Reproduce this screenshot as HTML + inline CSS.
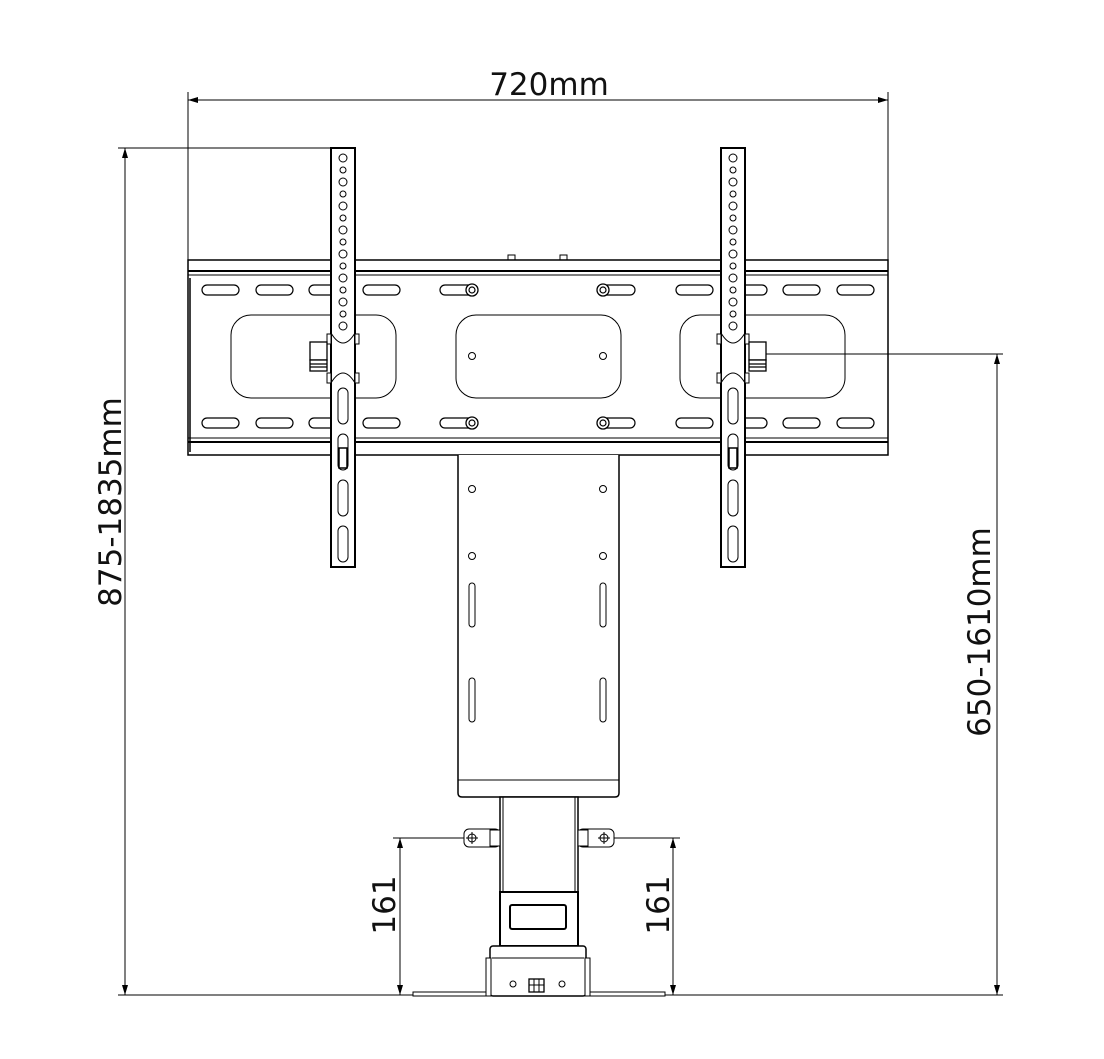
<!DOCTYPE html>
<html><head><meta charset="utf-8"><style>
html,body{margin:0;padding:0;background:#fff}
svg{display:block}
text{font-family:"DejaVu Sans","Liberation Sans",sans-serif;fill:#111}
</style></head><body>
<svg width="1104" height="1059" viewBox="0 0 1104 1059" xmlns="http://www.w3.org/2000/svg">
<defs>
<marker id="a" viewBox="0 0 10 10" refX="10" refY="5" markerWidth="10" markerHeight="10" markerUnits="userSpaceOnUse" orient="auto-start-reverse"><path d="M0,2 L10,5 L0,8 Z" fill="#000"/></marker>
<g id="slot"><rect x="0" y="-5" width="37" height="10" rx="5" fill="none" stroke="#000" stroke-width="1.2"/></g>
<g id="scr"><circle r="6" fill="#fff" stroke="#000" stroke-width="1.3"/><circle r="3" fill="none" stroke="#000" stroke-width="1.2"/></g>
<g id="br">
<rect x="0" y="0" width="24" height="419" fill="#fff" stroke="#000" stroke-width="2"/>
<g fill="none" stroke="#000" stroke-width="1">
<circle cx="12" cy="10" r="4"/><circle cx="12" cy="22" r="3"/><circle cx="12" cy="34" r="4"/><circle cx="12" cy="46" r="3"/><circle cx="12" cy="58" r="4"/><circle cx="12" cy="70" r="3"/><circle cx="12" cy="82" r="4"/><circle cx="12" cy="94" r="3"/><circle cx="12" cy="106" r="4"/><circle cx="12" cy="118" r="3"/><circle cx="12" cy="130" r="4"/><circle cx="12" cy="142" r="3"/><circle cx="12" cy="154" r="4"/><circle cx="12" cy="166" r="3"/><circle cx="12" cy="178" r="4"/>
<path d="M0,185 Q12,205 24,185"/><path d="M0,235 Q12,215 24,235"/>
<rect x="7" y="240" width="10" height="36" rx="5"/>
<rect x="7" y="286" width="10" height="36" rx="5"/>
<rect x="8" y="300" width="8" height="20" stroke-width="1.5"/>
<rect x="7" y="332" width="10" height="36" rx="5"/>
<rect x="7" y="378" width="10" height="36" rx="5"/>
</g>
<rect x="-4" y="186" width="4" height="10" fill="#fff" stroke="#000"/><rect x="-4" y="225" width="4" height="10" fill="#fff" stroke="#000"/>
<rect x="24" y="186" width="4" height="10" fill="#fff" stroke="#000"/><rect x="24" y="225" width="4" height="10" fill="#fff" stroke="#000"/>
</g>
</defs>
<g fill="none" stroke="#000" stroke-width="1">
<!-- top dimension -->
<line x1="188" y1="92" x2="188" y2="260"/><line x1="888" y1="92" x2="888" y2="260"/>
<line x1="188" y1="100" x2="888" y2="100" marker-start="url(#a)" marker-end="url(#a)"/>
<!-- left dimension -->
<line x1="118" y1="148" x2="331" y2="148"/>
<line x1="125" y1="148" x2="125" y2="995" marker-start="url(#a)" marker-end="url(#a)"/>
<line x1="118" y1="995" x2="1003" y2="995"/>
<!-- right dimension -->
<line x1="765" y1="354" x2="1003" y2="354"/>
<line x1="997" y1="354" x2="997" y2="995" marker-start="url(#a)" marker-end="url(#a)"/>
<!-- 161 dims -->
<line x1="393" y1="838" x2="472" y2="838"/>
<line x1="400" y1="838" x2="400" y2="995" marker-start="url(#a)" marker-end="url(#a)"/>
<line x1="603" y1="838" x2="680" y2="838"/>
<line x1="673" y1="838" x2="673" y2="995" marker-start="url(#a)" marker-end="url(#a)"/>
</g>
<!-- plate -->
<g fill="none" stroke="#000">
<rect x="188" y="260" width="700" height="195" stroke-width="1.5"/>
<line x1="188" y1="271" x2="888" y2="271" stroke-width="2"/><line x1="188" y1="275" x2="888" y2="275"/>
<line x1="188" y1="438" x2="888" y2="438"/><line x1="188" y1="442" x2="888" y2="442" stroke-width="2"/>
<line x1="190" y1="278" x2="190" y2="452" stroke-width="1.5"/>
<rect x="508" y="255" width="7" height="5"/><rect x="560" y="255" width="7" height="5"/>
<rect x="231" y="315" width="165" height="83" rx="20"/>
<rect x="456" y="315" width="165" height="83" rx="20"/>
<rect x="680" y="315" width="165" height="83" rx="20"/>
<circle cx="472" cy="356" r="3.5"/><circle cx="603" cy="356" r="3.5"/>
</g>
<use href="#slot" x="202" y="290"/><use href="#slot" x="256" y="290"/><use href="#slot" x="309" y="290"/><use href="#slot" x="363" y="290"/>
<use href="#slot" x="676" y="290"/><use href="#slot" x="730" y="290"/><use href="#slot" x="783" y="290"/><use href="#slot" x="837" y="290"/>
<use href="#slot" x="202" y="423"/><use href="#slot" x="256" y="423"/><use href="#slot" x="309" y="423"/><use href="#slot" x="363" y="423"/>
<use href="#slot" x="676" y="423"/><use href="#slot" x="730" y="423"/><use href="#slot" x="783" y="423"/><use href="#slot" x="837" y="423"/>
<use href="#slot" x="440" y="290"/><use href="#slot" x="598" y="290"/><use href="#slot" x="440" y="423"/><use href="#slot" x="598" y="423"/>
<use href="#scr" x="472" y="290"/><use href="#scr" x="603" y="290"/><use href="#scr" x="472" y="423"/><use href="#scr" x="603" y="423"/>
<!-- column -->
<g fill="#fff" stroke="#000" stroke-width="1.5">
<path d="M458,455 V793 Q458,797 462,797 H615 Q619,797 619,793 V455"/>
<line x1="458" y1="780" x2="619" y2="780" stroke-width="1"/>
</g>
<g fill="none" stroke="#000" stroke-width="1">
<circle cx="472" cy="489" r="3.5"/><circle cx="603" cy="489" r="3.5"/><circle cx="472" cy="556" r="3.5"/><circle cx="603" cy="556" r="3.5"/>
<rect x="469" y="583" width="6" height="44" rx="3"/><rect x="600" y="583" width="6" height="44" rx="3"/>
<rect x="469" y="678" width="6" height="44" rx="3"/><rect x="600" y="678" width="6" height="44" rx="3"/>
</g>
<!-- lower column -->
<g fill="#fff" stroke="#000" stroke-width="1.5">
<rect x="500" y="797" width="78" height="95"/>
<line x1="503" y1="797" x2="503" y2="892" stroke-width="1"/><line x1="575" y1="797" x2="575" y2="892" stroke-width="1"/>
<rect x="464" y="829" width="36" height="18" rx="5" stroke-width="1"/>
<rect x="578" y="829" width="36" height="18" rx="5" stroke-width="1"/>
<rect x="490" y="830" width="10" height="16" stroke-width="1"/><rect x="578" y="830" width="10" height="16" stroke-width="1"/>
<rect x="500" y="892" width="78" height="54" stroke-width="2"/>
<rect x="510" y="905" width="56" height="24" rx="2" stroke-width="2"/>
<rect x="413" y="992" width="252" height="4" stroke-width="1"/>
<rect x="490" y="946" width="96" height="50" rx="3"/>
<line x1="492" y1="958" x2="584" y2="958" stroke-width="1"/>
<rect x="486" y="958" width="5" height="38" stroke-width="1"/><rect x="585" y="958" width="5" height="38" stroke-width="1"/>
<rect x="529" y="979" width="15" height="13" stroke-width="1.3"/>
</g>
<g stroke="#000" stroke-width="1" fill="none">
<line x1="534" y1="979" x2="534" y2="992"/><line x1="539" y1="979" x2="539" y2="992"/><line x1="529" y1="985" x2="544" y2="985"/>
<circle cx="513" cy="984" r="3"/><circle cx="562" cy="984" r="3"/>
<circle cx="472" cy="838" r="4"/><line x1="466" y1="838" x2="478" y2="838"/><line x1="472" y1="832" x2="472" y2="844"/>
<circle cx="604" cy="838" r="4"/><line x1="598" y1="838" x2="610" y2="838"/><line x1="604" y1="832" x2="604" y2="844"/>
</g>
<!-- brackets -->
<use href="#br" x="331" y="148"/>
<use href="#br" x="721" y="148"/>
<g fill="#fff" stroke="#000" stroke-width="1.3">
<rect x="310" y="342" width="17" height="18"/><rect x="310" y="360" width="17" height="11"/>
<line x1="310" y1="364" x2="327" y2="364"/><line x1="310" y1="367" x2="327" y2="367"/>
<rect x="749" y="342" width="17" height="18"/><rect x="749" y="360" width="17" height="11"/>
<line x1="749" y1="364" x2="766" y2="364"/><line x1="749" y1="367" x2="766" y2="367"/>
</g>
<!-- labels -->
<text x="549" y="95" font-size="31" text-anchor="middle">720mm</text>
<text transform="translate(121,502) rotate(-90)" font-size="31" text-anchor="middle">875-1835mm</text>
<text transform="translate(990,632) rotate(-90)" font-size="31" text-anchor="middle">650-1610mm</text>
<text transform="translate(395,905) rotate(-90)" font-size="31" text-anchor="middle">161</text>
<text transform="translate(669,905) rotate(-90)" font-size="31" text-anchor="middle">161</text>
</svg>
</body></html>
